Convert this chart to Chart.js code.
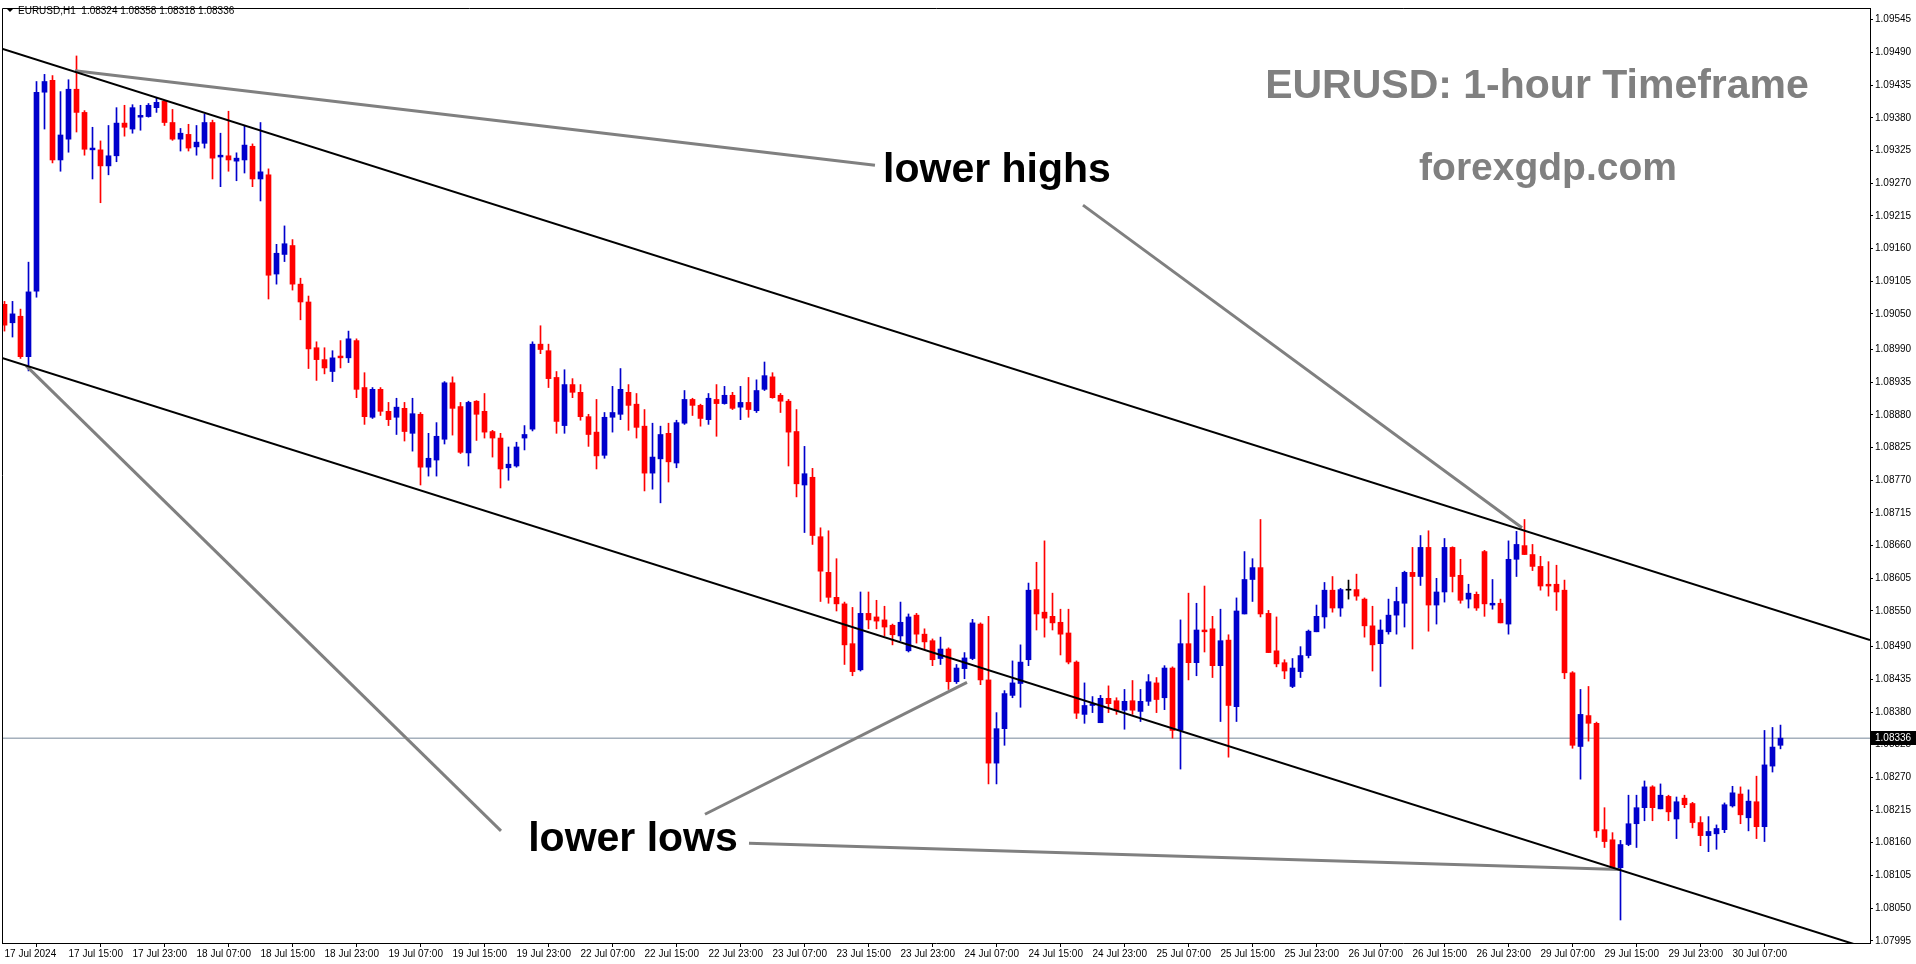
<!DOCTYPE html>
<html>
<head>
<meta charset="utf-8">
<title>EURUSD H1</title>
<script src="https://cdn.jsdelivr.net/npm/chart.js@4.4.1/dist/chart.umd.min.js"></script>
<style>
  html, body { margin: 0; padding: 0; background: #ffffff; }
  #wrap { width: 1916px; height: 964px; position: relative; }
</style>
</head>
<body>
<div id="wrap"><canvas id="canvasChart"></canvas></div>
<script>
//hourly candles, index 0 = 17 Jul 07:00
var opens = [
  1.09066,1.09035,1.09046,1.08978,1.09088,1.09423,1.09443,1.09309,1.09344,1.09428,
  1.09389,1.09326,1.09326,1.09299,1.09316,1.09371,1.09361,1.09381,1.09382,1.09397,
  1.09408,1.09372,1.09344,1.09352,1.09331,1.09337,1.09372,1.09314,1.09316,1.09307,
  1.09309,1.09332,1.09277,1.09284,1.09117,1.09150,1.09165,1.09100,1.09070,1.08993,
  1.08973,1.08953,1.08979,1.08976,1.09005,1.08926,1.08876,1.08923,1.08886,1.08876,
  1.08891,1.08849,1.08881,1.08792,1.08804,1.08839,1.08934,1.08894,1.08816,1.08903,
  1.08886,1.08852,1.08841,1.08791,1.08794,1.08841,1.08856,1.08999,1.08988,1.08943,
  1.08862,1.08931,1.08918,1.08877,1.08851,1.08812,1.08876,1.08881,1.08918,1.08898,
  1.08861,1.08782,1.08806,1.08849,1.08799,1.08866,1.08906,1.08896,1.08872,1.08906,
  1.08899,1.08913,1.08893,1.08901,1.08887,1.08923,1.08944,1.08913,1.08903,1.08852,
  1.08762,1.08775,1.08675,1.08615,1.08573,1.08562,1.08495,1.08451,1.08546,1.08540,
  1.08535,1.08526,1.08508,1.08483,1.08543,1.08511,1.08500,1.08470,1.08486,1.08431,
  1.08453,1.08470,1.08528,1.08434,1.08294,1.08352,1.08408,1.08428,1.08468,1.08586,
  1.08548,1.08541,1.08531,1.08513,1.08464,1.08376,1.08391,1.08362,1.08403,1.08399,
  1.08383,1.08399,1.08381,1.08398,1.08429,1.08404,1.08454,1.08349,1.08495,1.08463,
  1.08518,1.08520,1.08458,1.08501,1.08389,1.08545,1.08603,1.08623,1.08546,1.08483,
  1.08463,1.08423,1.08448,1.08475,1.08515,1.08540,1.08585,1.08555,1.08585,1.08586,
  1.08570,1.08525,1.08495,1.08515,1.08543,1.08563,1.08615,1.08608,1.08657,1.08560,
  1.08582,1.08657,1.08610,1.08570,1.08578,1.08650,1.08560,1.08563,1.08528,1.08637,
  1.08660,1.08645,1.08625,1.08595,1.08595,1.08585,1.08446,1.08322,1.08374,1.08361,
  1.08182,1.08165,1.08118,1.08157,1.08192,1.08219,1.08254,1.08217,1.08238,1.08200,
  1.08235,1.08226,1.08194,1.08172,1.08175,1.08182,1.08222,1.08242,1.08202,1.08229,
  1.08187,1.08289,1.08324
];

var highs = [
  1.09071,1.09071,1.09058,1.09137,1.09441,1.09453,1.09451,1.09424,1.09444,1.09484,
  1.09392,1.09364,1.09341,1.09367,1.09397,1.09401,1.09402,1.09401,1.09404,1.09414,
  1.09409,1.09394,1.09362,1.09369,1.09367,1.09386,1.09376,1.09354,1.09391,1.09321,
  1.09367,1.09336,1.09372,1.09294,1.09167,1.09198,1.09175,1.09110,1.09080,1.09003,
  1.08993,1.08988,1.09005,1.09021,1.09008,1.08951,1.08926,1.08926,1.08901,1.08908,
  1.08901,1.08908,1.08884,1.08849,1.08867,1.08936,1.08944,1.08901,1.08903,1.08904,
  1.08916,1.08854,1.08849,1.08826,1.08834,1.08862,1.09003,1.09030,1.08999,1.08953,
  1.08956,1.08941,1.08931,1.08881,1.08906,1.08884,1.08928,1.08958,1.08931,1.08916,
  1.08889,1.08866,1.08861,1.08866,1.08871,1.08921,1.08908,1.08898,1.08916,1.08931,
  1.08928,1.08918,1.08928,1.08943,1.08939,1.08969,1.08951,1.08916,1.08906,1.08889,
  1.08827,1.08790,1.08690,1.08685,1.08638,1.08565,1.08556,1.08582,1.08582,1.08568,
  1.08558,1.08528,1.08565,1.08545,1.08546,1.08520,1.08503,1.08506,1.08488,1.08460,
  1.08480,1.08536,1.08530,1.08541,1.08379,1.08416,1.08466,1.08493,1.08597,1.08632,
  1.08668,1.08580,1.08553,1.08553,1.08466,1.08429,1.08406,1.08408,1.08424,1.08404,
  1.08418,1.08433,1.08418,1.08443,1.08438,1.08458,1.08456,1.08535,1.08580,1.08563,
  1.08592,1.08541,1.08553,1.08510,1.08572,1.08650,1.08638,1.08704,1.08551,1.08540,
  1.08468,1.08470,1.08490,1.08518,1.08560,1.08598,1.08608,1.08588,1.08602,1.08612,
  1.08572,1.08558,1.08535,1.08570,1.08590,1.08617,1.08657,1.08677,1.08685,1.08605,
  1.08672,1.08658,1.08637,1.08595,1.08582,1.08652,1.08603,1.08570,1.08668,1.08684,
  1.08704,1.08662,1.08642,1.08633,1.08627,1.08602,1.08448,1.08418,1.08423,1.08363,
  1.08219,1.08177,1.08164,1.08240,1.08240,1.08264,1.08256,1.08259,1.08240,1.08237,
  1.08240,1.08228,1.08204,1.08204,1.08190,1.08227,1.08255,1.08254,1.08249,1.08272,
  1.08349,1.08354,1.08358
];

var lows = [
  1.09021,1.09011,1.08975,1.08954,1.09078,1.09361,1.09304,1.09290,1.09322,1.09356,
  1.09317,1.09277,1.09237,1.09284,1.09306,1.09349,1.09354,1.09359,1.09381,1.09389,
  1.09367,1.09342,1.09324,1.09324,1.09317,1.09329,1.09277,1.09264,1.09290,1.09274,
  1.09287,1.09264,1.09240,1.09075,1.09100,1.09138,1.09090,1.09040,1.08958,1.08938,
  1.08949,1.08936,1.08959,1.08968,1.08909,1.08864,1.08874,1.08879,1.08862,1.08847,
  1.08836,1.08819,1.08762,1.08777,1.08777,1.08831,1.08846,1.08815,1.08794,1.08837,
  1.08841,1.08809,1.08757,1.08770,1.08792,1.08821,1.08853,1.08983,1.08926,1.08849,
  1.08849,1.08909,1.08871,1.08827,1.08789,1.08807,1.08851,1.08872,1.08854,1.08841,
  1.08752,1.08755,1.08732,1.08767,1.08791,1.08864,1.08879,1.08861,1.08864,1.08844,
  1.08898,1.08889,1.08872,1.08876,1.08884,1.08921,1.08908,1.08884,1.08794,1.08742,
  1.08682,1.08662,1.08566,1.08563,1.08550,1.08460,1.08441,1.08449,1.08520,1.08520,
  1.08508,1.08493,1.08500,1.08481,1.08496,1.08486,1.08458,1.08460,1.08418,1.08428,
  1.08436,1.08468,1.08426,1.08259,1.08259,1.08324,1.08404,1.08388,1.08458,1.08518,
  1.08506,1.08518,1.08476,1.08461,1.08369,1.08361,1.08379,1.08362,1.08379,1.08376,
  1.08351,1.08376,1.08364,1.08391,1.08379,1.08384,1.08336,1.08284,1.08434,1.08441,
  1.08481,1.08438,1.08364,1.08304,1.08364,1.08545,1.08566,1.08540,1.08480,1.08456,
  1.08436,1.08421,1.08438,1.08471,1.08515,1.08521,1.08548,1.08541,1.08570,1.08568,
  1.08506,1.08449,1.08423,1.08511,1.08511,1.08523,1.08486,1.08593,1.08516,1.08528,
  1.08565,1.08582,1.08563,1.08555,1.08551,1.08541,1.08553,1.08530,1.08511,1.08608,
  1.08645,1.08618,1.08585,1.08575,1.08551,1.08436,1.08319,1.08267,1.08331,1.08169,
  1.08152,1.08117,1.08030,1.08155,1.08152,1.08197,1.08197,1.08217,1.08197,1.08167,
  1.08219,1.08185,1.08155,1.08145,1.08149,1.08177,1.08220,1.08192,1.08180,1.08167,
  1.08162,1.08279,1.08318
];

var closes = [
  1.09031,1.09050,1.08978,1.09087,1.09423,1.09441,1.09309,1.09351,1.09428,1.09389,
  1.09327,1.09329,1.09299,1.09316,1.09371,1.09364,1.09397,1.09384,1.09401,1.09406,
  1.09372,1.09344,1.09354,1.09329,1.09339,1.09372,1.09312,1.09317,1.09309,1.09312,
  1.09334,1.09277,1.09289,1.09115,1.09152,1.09168,1.09100,1.09070,1.08991,1.08973,
  1.08959,1.08976,1.08976,1.09008,1.08923,1.08877,1.08923,1.08886,1.08872,1.08893,
  1.08852,1.08882,1.08792,1.08807,1.08844,1.08934,1.08891,1.08817,1.08901,1.08881,
  1.08851,1.08841,1.08789,1.08797,1.08826,1.08847,1.08999,1.08990,1.08941,1.08869,
  1.08931,1.08918,1.08877,1.08847,1.08811,1.08876,1.08884,1.08923,1.08896,1.08859,
  1.08782,1.08809,1.08847,1.08801,1.08867,1.08906,1.08896,1.08874,1.08908,1.08899,
  1.08913,1.08891,1.08901,1.08889,1.08921,1.08946,1.08909,1.08903,1.08851,1.08764,
  1.08781,1.08677,1.08617,1.08573,1.08562,1.08493,1.08448,1.08546,1.08535,1.08533,
  1.08523,1.08510,1.08531,1.08540,1.08511,1.08498,1.08468,1.08486,1.08431,1.08454,
  1.08471,1.08530,1.08434,1.08294,1.08352,1.08411,1.08429,1.08464,1.08585,1.08545,
  1.08538,1.08530,1.08511,1.08464,1.08378,1.08391,1.08394,1.08403,1.08394,1.08383,
  1.08398,1.08383,1.08398,1.08431,1.08401,1.08454,1.08349,1.08495,1.08463,1.08518,
  1.08515,1.08458,1.08500,1.08391,1.08550,1.08603,1.08623,1.08545,1.08480,1.08461,
  1.08449,1.08454,1.08475,1.08516,1.08541,1.08585,1.08555,1.08586,1.08585,1.08575,
  1.08525,1.08493,1.08518,1.08543,1.08566,1.08615,1.08608,1.08657,1.08560,1.08582,
  1.08657,1.08608,1.08568,1.08580,1.08555,1.08562,1.08563,1.08530,1.08637,1.08662,
  1.08645,1.08625,1.08592,1.08592,1.08582,1.08446,1.08324,1.08376,1.08361,1.08180,
  1.08162,1.08118,1.08157,1.08192,1.08219,1.08254,1.08219,1.08240,1.08212,1.08229,
  1.08224,1.08194,1.08172,1.08179,1.08184,1.08224,1.08244,1.08207,1.08230,1.08187,
  1.08291,1.08321,1.08336
];

//time labels, one every 8 bars
var xTickLabels = [
  "17 Jul 2024", "17 Jul 15:00", "17 Jul 23:00", "18 Jul 07:00", "18 Jul 15:00", "18 Jul 23:00",
  "19 Jul 07:00", "19 Jul 15:00", "19 Jul 23:00", "22 Jul 07:00", "22 Jul 15:00", "22 Jul 23:00",
  "23 Jul 07:00", "23 Jul 15:00", "23 Jul 23:00", "24 Jul 07:00", "24 Jul 15:00", "24 Jul 23:00",
  "25 Jul 07:00", "25 Jul 15:00", "25 Jul 23:00", "26 Jul 07:00", "26 Jul 15:00", "26 Jul 23:00",
  "29 Jul 07:00", "29 Jul 15:00", "29 Jul 23:00", "30 Jul 07:00"
];

//price labels on the right
var yTickValues = [
  1.07995, 1.08050, 1.08105, 1.08160, 1.08215, 1.08270, 1.08325, 1.08380, 1.08435, 1.08490,
  1.08550, 1.08605, 1.08660, 1.08715, 1.08770, 1.08825, 1.08880, 1.08935, 1.08990, 1.09050,
  1.09105, 1.09160, 1.09215, 1.09270, 1.09325, 1.09380, 1.09435, 1.09490, 1.09545
];

//drawn lines as [bar index, price] pairs
var upperChannel = [[-0.3125, 1.09496], [233.1875, 1.08501]];
var lowerChannel = [[-0.3125, 1.08976], [233.1875, 1.07981]];
var highsArrowA = [[8.81, 1.09459], [108.81, 1.09300]];
var highsArrowB = [[134.81, 1.09233], [189.69, 1.08690]];
var lowsArrowA = [[2.69, 1.08963], [62.06, 1.08180]];
var lowsArrowB = [[87.56, 1.08208], [120.31, 1.08430]];
var lowsArrowC = [[93.06, 1.08159], [201.94, 1.08115]];

var last = closes.length - 1;

//bull blue, bear red, doji black
function candleColor(i) {
  if (closes[i] > opens[i]) return '#0000cc';
  if (closes[i] < opens[i]) return '#ff0000';
  return '#000000';
}

function lineSet(points, color, width, order) {
  return {
    type: 'line',
    data: points.map((p) => ({ x: p[0], y: p[1] })),
    borderColor: color,
    borderWidth: width,
    pointRadius: 0,
    fill: false,
    tension: 0,
    clip: 0,
    order: order
  };
}

var bodies = opens.map((o, i) => ({ x: i, y: [o, closes[i]] }));
var wicks = lows.map((l, i) => ({ x: i, y: [l, highs[i]] }));

//frame round the plot
var framePlugin = {
  id: 'frame',
  afterDraw: function (chart) {
    var a = chart.chartArea;
    var ctx = chart.ctx;
    ctx.save();
    ctx.strokeStyle = '#000000';
    ctx.lineWidth = 1;
    ctx.beginPath();
    ctx.moveTo(a.left + 0.5, a.bottom);
    ctx.lineTo(a.left + 0.5, a.top + 0.5);
    ctx.lineTo(a.right, a.top + 0.5);
    ctx.stroke();
    ctx.restore();
  }
};

//texts on the chart
var textPlugin = {
  id: 'texts',
  afterDraw: function (chart) {
    var ctx = chart.ctx;
    var yScale = chart.scales.y;
    ctx.save();

    //header
    ctx.fillStyle = '#000000';
    ctx.beginPath();
    ctx.moveTo(7, 9);
    ctx.lineTo(13, 9);
    ctx.lineTo(10, 12);
    ctx.closePath();
    ctx.fill();
    ctx.font = '10px "Liberation Sans"';
    ctx.textAlign = 'left';
    ctx.textBaseline = 'middle';
    var ohlc = [opens[last], highs[last], lows[last], closes[last]].map((v) => v.toFixed(5)).join(' ');
    ctx.fillText('EURUSD,H1  ' + ohlc, 18, 11);

    //annotations
    ctx.textAlign = 'center';
    ctx.font = 'bold 41px "Liberation Sans"';
    ctx.fillText('lower highs', 997, 171);
    ctx.fillText('lower lows', 633, 840);
    ctx.fillStyle = '#808080';
    ctx.fillText('EURUSD: 1-hour Timeframe', 1537, 87);
    ctx.font = 'bold 39px "Liberation Sans"';
    ctx.fillText('forexgdp.com', 1548, 169);

    //current price box
    var py = Math.round(yScale.getPixelForValue(closes[last]));
    ctx.fillStyle = '#000000';
    ctx.fillRect(chart.chartArea.right + 1, py - 7, 45, 14);
    ctx.fillStyle = '#ffffff';
    ctx.font = '10px "Liberation Sans"';
    ctx.textAlign = 'left';
    ctx.fillText(closes[last].toFixed(5), chart.chartArea.right + 5, py);
    ctx.restore();
  }
};

var config = {
  type: 'bar',
  data: {
    datasets: [
      lineSet(upperChannel, '#000000', 2, 1),
      lineSet(lowerChannel, '#000000', 2, 1),
      lineSet(highsArrowA, '#808080', 3, 1),
      lineSet(highsArrowB, '#808080', 3, 1),
      lineSet(lowsArrowA, '#808080', 3, 1),
      lineSet(lowsArrowB, '#808080', 3, 1),
      lineSet(lowsArrowC, '#808080', 3, 1),
      {
        label: 'bodies',
        data: bodies,
        backgroundColor: (c) => candleColor(c.dataIndex),
        barThickness: 5,
        minBarLength: 1,
        grouped: false,
        order: 2
      },
      {
        label: 'wicks',
        data: wicks,
        backgroundColor: (c) => candleColor(c.dataIndex),
        barThickness: 1,
        grouped: false,
        order: 3
      },
      lineSet([[-0.3125, closes[last]], [233.1875, closes[last]]], '#778899', 1, 4)
    ]
  },
  options: {
    responsive: true,
    maintainAspectRatio: false,
    animation: false,
    layout: { padding: { left: 2, top: 2, right: 0, bottom: 0 } },
    plugins: {
      legend: { display: false },
      tooltip: { enabled: false }
    },
    scales: {
      x: {
        type: 'linear',
        min: -0.3125,
        max: 233.1875,
        offset: false,
        grid: { drawOnChartArea: false, drawTicks: true, tickLength: 4, color: '#000000' },
        border: { display: true, color: '#000000', width: 1 },
        ticks: {
          autoSkip: false,
          maxRotation: 0,
          align: 'start',
          padding: 1,
          color: '#000000',
          font: { family: 'Liberation Sans', size: 10 },
          callback: (v, i) => xTickLabels[i]
        },
        afterBuildTicks: (s) => { s.ticks = xTickLabels.map((t, k) => ({ value: k * 8 })); },
        afterFit: (s) => { s.height = 21; }
      },
      y: {
        position: 'right',
        min: 1.079913,
        max: 1.095647,
        grid: { drawOnChartArea: false, drawTicks: true, tickLength: 3, color: '#000000' },
        border: { display: true, color: '#000000', width: 1 },
        ticks: {
          autoSkip: false,
          padding: 2,
          color: '#000000',
          font: { family: 'Liberation Sans', size: 10 },
          callback: (v) => v.toFixed(5)
        },
        afterBuildTicks: (s) => { s.ticks = yTickValues.map((v) => ({ value: v })); },
        afterFit: (s) => { s.width = 46; }
      }
    }
  },
  plugins: [framePlugin, textPlugin]
};

var chart1 = new Chart(document.getElementById('canvasChart'), config);
</script>
</body>
</html>
